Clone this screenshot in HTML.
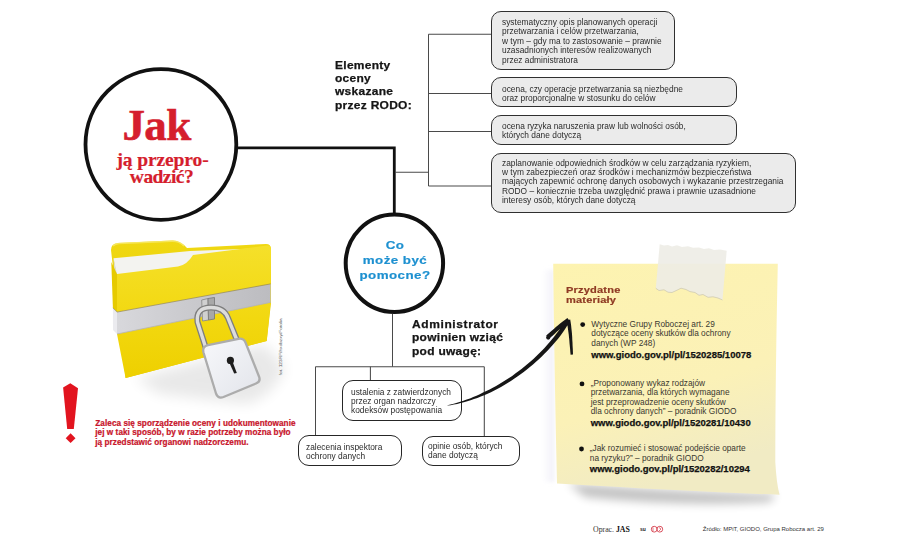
<!DOCTYPE html>
<html><head><meta charset="utf-8">
<style>
html,body{margin:0;padding:0;background:#fff;}
body{width:900px;height:540px;position:relative;overflow:hidden;font-family:"Liberation Sans",sans-serif;}
.a{position:absolute;white-space:nowrap;}
svg{position:absolute;left:0;top:0;}
.box{position:absolute;box-sizing:border-box;border:1.9px solid #303030;border-radius:10px;background:#ebebeb;}
.wbox{position:absolute;box-sizing:border-box;border:1.9px solid #262626;border-radius:11px;background:#fff;}
</style></head><body>
<svg width="900" height="540" viewBox="0 0 900 540">
  <defs>
    <filter id="blur2" x="-50%" y="-50%" width="200%" height="200%"><feGaussianBlur stdDeviation="2"/></filter>
    <filter id="blur4" x="-50%" y="-50%" width="200%" height="200%"><feGaussianBlur stdDeviation="4"/></filter>
    <filter id="blur5" x="-50%" y="-50%" width="200%" height="200%"><feGaussianBlur stdDeviation="5"/></filter>
    <filter id="blur6" x="-50%" y="-50%" width="200%" height="200%"><feGaussianBlur stdDeviation="7"/></filter>
    <radialGradient id="shadowG" cx="0.5" cy="0.5" r="0.5">
      <stop offset="0" stop-color="#000" stop-opacity="0.22"/>
      <stop offset="1" stop-color="#000" stop-opacity="0"/>
    </radialGradient>
    <linearGradient id="noteG" x1="0" y1="0" x2="0.3" y2="1">
      <stop offset="0" stop-color="#fdf3b0"/>
      <stop offset="0.65" stop-color="#fbf1b7"/>
      <stop offset="1" stop-color="#f1ebc4"/>
    </linearGradient>
    <linearGradient id="noteShadowL" x1="0" y1="0" x2="1" y2="0">
      <stop offset="0" stop-color="#e8e6f4" stop-opacity="0"/>
      <stop offset="1" stop-color="#dcdaee" stop-opacity="0.9"/>
    </linearGradient>
    <linearGradient id="frontG" x1="0" y1="0" x2="0" y2="1">
      <stop offset="0" stop-color="#f5e02a"/>
      <stop offset="0.55" stop-color="#f2d810"/>
      <stop offset="1" stop-color="#eed000"/>
    </linearGradient>
    <linearGradient id="backG" x1="0" y1="0" x2="0" y2="1">
      <stop offset="0" stop-color="#f0d812"/>
      <stop offset="1" stop-color="#e2c600"/>
    </linearGradient>
    <linearGradient id="bandH" x1="0" y1="0" x2="1" y2="0">
      <stop offset="0" stop-color="#d8d8dc"/>
      <stop offset="0.5" stop-color="#c9c9cd"/>
      <stop offset="1" stop-color="#bcbcc0"/>
    </linearGradient>
    <linearGradient id="bandG" x1="0" y1="0" x2="0" y2="1">
      <stop offset="0" stop-color="#d4d4d4"/>
      <stop offset="0.5" stop-color="#dadada"/>
      <stop offset="1" stop-color="#cbcbcb"/>
    </linearGradient>
    <linearGradient id="lockG" x1="0" y1="0" x2="1" y2="1">
      <stop offset="0" stop-color="#f7f8fb"/>
      <stop offset="1" stop-color="#e2e4ea"/>
    </linearGradient>
  </defs>

  <!-- folder shadow -->
  <path d="M135,378 L265,344 L285,368 Q272,398 245,404 L160,394 Z" fill="#000" opacity="0.085" filter="url(#blur6)"/>
  <!-- folder back -->
  <path d="M111,250 Q111,243.5 118,243 L172,240.5 Q180,240 187,248 L266,244 Q271,244 271,249 L271,303 L266.7,341 L125.6,378 Z" fill="url(#backG)"/>
  <path d="M113,246 Q115,243.8 119,243.6 L172,241.3 Q179,241 184,246" fill="none" stroke="#f7ea6a" stroke-width="1.5" opacity="0.8"/>
  <!-- papers -->
  <path d="M113.5,258.3 L190,251 L268,248 L268,272 L117.5,280 Z" fill="#f3f3f0"/>
  <path d="M113.5,258.3 L117,274 L114.5,274 Z" fill="#dcdcd6"/>
  <!-- folder front -->
  <path d="M117,274 L178,266.5 Q187,265 193,255 L267,245.5 Q271,245 271,250 L270.6,302.4 L266.7,341 L125.6,378 L117,334 Z" fill="url(#frontG)"/>
  <path d="M111.3,262 L117,274 L117,312.1 L112.9,308 Z" fill="#e6ca00"/>
  <!-- band -->
  <path d="M112.9,308 L117,312.1 L117,334 L113,330 Z" fill="#ebebef"/>
  <path d="M117,312.1 L270.6,283.9 L270.6,302.4 L117,334 Z" fill="url(#bandH)"/>
  <path d="M117,334 L270.6,302.4" fill="none" stroke="#b4b4b8" stroke-width="0.8"/>
  <path d="M112.9,308 L117,312.1 L270.6,283.9" fill="none" stroke="#8c8050" stroke-width="0.9" opacity="0.7"/>
  <!-- hasp -->
  <path d="M201.7,300 L208,298.5 L208.5,320 L202.5,321 Z" fill="#d0d0d0" stroke="#8c8c8c" stroke-width="0.9"/>
  <path d="M208,298.5 L214.5,297.5 L214.5,319 L208.5,320 Z" fill="#a8a8a8" stroke="#7c7c7c" stroke-width="0.9"/>
  <!-- shackle -->
  <path d="M205.5,347 L197.5,322 Q195.5,307.5 211,307.5 Q224,307.5 228,318 L236.5,339" fill="none" stroke="#7e7e7e" stroke-width="6" stroke-linecap="round"/>
  <path d="M205.5,347 L197.5,322 Q195.5,307.5 211,307.5 Q224,307.5 228,318 L236.5,339" fill="none" stroke="#dcdcdc" stroke-width="3.4" stroke-linecap="round"/>
  <!-- lock body -->
  <path d="M208,345.2 L238.5,338.8 Q243.5,337.8 245.5,342.5 L259,376.5 Q261,381.5 256,383.5 L223.5,397 Q218,399 216,393.5 L203.5,352.5 Q202,346.5 208,345.2 Z" fill="url(#lockG)" stroke="#acacac" stroke-width="2.3"/>
  <circle cx="230.4" cy="360.4" r="3.6" fill="#1e1e1e"/>
  <path d="M228.8,361.5 L232.2,360.8 L236.8,373 L234.2,373.6 Z" fill="#1e1e1e"/>

  <!-- big circle -->
  <circle cx="160.9" cy="144.5" r="75.4" fill="#fff" stroke="#111" stroke-width="3.8"/>
  <!-- thick connector -->
  <polyline points="238,147.8 394.3,147.8 394.3,213" fill="none" stroke="#111" stroke-width="2.8"/>
  <!-- circle 2 -->
  <circle cx="394.4" cy="263.3" r="48.7" fill="#fff" stroke="#111" stroke-width="4"/>
  <!-- thin tree top -->
  <g stroke="#4a4a4a" stroke-width="1.05" fill="none">
    <line x1="395" y1="172.2" x2="428.5" y2="172.2"/>
    <line x1="428.5" y1="34.2" x2="428.5" y2="186"/>
    <line x1="428.5" y1="34.2" x2="492" y2="34.2"/>
    <line x1="428.5" y1="93.5" x2="492" y2="93.5"/>
    <line x1="428.5" y1="131.5" x2="492" y2="131.5"/>
    <line x1="428.5" y1="186" x2="492" y2="186"/>
  </g>
  <!-- thin tree bottom -->
  <g stroke="#4a4a4a" stroke-width="1.05" fill="none">
    <line x1="392.5" y1="314" x2="392.5" y2="366.7"/>
    <line x1="315.5" y1="366.7" x2="484.3" y2="366.7"/>
    <line x1="315.5" y1="366.7" x2="315.5" y2="437"/>
    <line x1="484.3" y1="366.7" x2="484.3" y2="437"/>
    <line x1="370.4" y1="366.7" x2="370.4" y2="382"/>
  </g>

  <!-- note shadow left -->
  <rect x="542" y="270" width="12" height="212" fill="url(#noteShadowL)" opacity="0.5" filter="url(#blur2)"/>
  <!-- note bottom shadow -->
  <path d="M568,483 Q680,492 776,494 L770,502 Q680,507 585,497 Z" fill="#000" opacity="0.24" filter="url(#blur5)"/>
  <!-- sticky note -->
  <path d="M553.2,263.8 L777.8,263.8 Q775.3,380 775.3,462 Q776.5,484 779.6,494.8 Q690,491.5 557,483.6 Q554.5,380 553.2,263.8 Z" fill="url(#noteG)"/>
  <!-- tape -->
  <path d="M659.7,244.2 L664,245.5 L668,245 L672,246.5 L677,245.3 L682,247 L688,246.2 L693,247.8 L699,247.5 L704,249 L709,248.2 L714,250 L720,249.5 L726.7,250.8 L722.5,300 L718,298 L713,296.8 L708,297.3 L703,294.5 L699,295.3 L695,292.5 L690,291.6 L686,289.5 L681,288.2 L677,290.2 L672,292.5 L668,292.2 L664,289.8 L659,290.5 L655.8,288.3 Z" fill="#edece6" opacity="0.9"/>
  <path d="M722.5,300 L718,298 L713,296.8 L708,297.3 L703,294.5 L699,295.3 L695,292.5 L690,291.6 L686,289.5 L681,288.2 L677,290.2 L672,292.5 L668,292.2 L664,289.8 L659,290.5 L655.8,288.3" fill="none" stroke="#cfcab2" stroke-width="0.8"/>
</svg>
<div class="box" style="left:491px;top:10.7px;width:184px;height:59px;"></div>
<div class="box" style="left:491px;top:77.4px;width:245.6px;height:29.3px;"></div>
<div class="box" style="left:491px;top:115.2px;width:245.6px;height:29.6px;"></div>
<div class="box" style="left:491px;top:153.1px;width:304.6px;height:59.8px;"></div>
<div class="wbox" style="left:342.2px;top:380.4px;width:120px;height:41px;"></div>
<div class="wbox" style="left:298px;top:435.3px;width:104px;height:30.7px;"></div>
<div class="wbox" style="left:422px;top:435.5px;width:98px;height:30.5px;"></div>

<div class="a" style="left:502px;top:17.90px;font-size:9px;color:#2b2b2b;transform:scaleX(0.93);transform-origin:0 0;line-height:9.45px;">systematyczny opis planowanych operacji<br>przetwarzania i celów przetwarzania,<br>w tym – gdy ma to zastosowanie – prawnie<br>uzasadnionych interesów realizowanych<br>przez administratora</div>
<div class="a" style="left:502px;top:84.60px;font-size:9px;color:#2b2b2b;transform:scaleX(0.93);transform-origin:0 0;line-height:9.5px;">ocena, czy operacje przetwarzania są niezbędne<br>oraz proporcjonalne w stosunku do celów</div>
<div class="a" style="left:502px;top:121.60px;font-size:9px;color:#2b2b2b;transform:scaleX(0.93);transform-origin:0 0;line-height:9.3px;">ocena ryzyka naruszenia praw lub wolności osób,<br>których dane dotyczą</div>
<div class="a" style="left:502px;top:158.60px;font-size:9px;color:#2b2b2b;transform:scaleX(0.93);transform-origin:0 0;line-height:9.4px;">zaplanowanie odpowiednich środków w celu zarządzania ryzykiem,<br>w tym zabezpieczeń oraz środków i mechanizmów bezpieczeństwa<br>mających zapewnić ochronę danych osobowych i wykazanie przestrzegania<br>RODO – koniecznie trzeba uwzględnić prawa i prawnie uzasadnione<br>interesy osób, których dane dotyczą</div>
<div class="a" style="left:335px;top:58.81px;font-size:10.5px;font-weight:700;letter-spacing:0.25px;color:#151515;transform:scaleX(1.14);transform-origin:0 0;-webkit-text-stroke:0.25px #151515;line-height:13.3px;">Elementy<br>oceny<br>wskazane<br>przez RODO:</div>
<div class="a" style="left:412px;top:318.31px;font-size:10.5px;font-weight:700;letter-spacing:0.25px;color:#151515;transform:scaleX(1.14);transform-origin:0 0;-webkit-text-stroke:0.25px #151515;line-height:13.15px;"><span style='letter-spacing:0.55px'>Administrator</span><br>powinien wziąć<br>pod uwagę:</div>
<div class="a" style="left:118.5px;top:103.40px;font-family:'Liberation Serif',serif;font-weight:700;color:#d51e2d;text-align:center;width:76px;font-size:45px;line-height:45px;letter-spacing:-0.6px;-webkit-text-stroke:0.6px #d51e2d;">Jak</div>
<div class="a" style="left:112.5px;top:149.81px;font-family:'Liberation Serif',serif;font-weight:700;color:#d51e2d;text-align:center;width:100px;font-size:19.5px;line-height:20px;letter-spacing:-0.1px;-webkit-text-stroke:0.2px #d51e2d;">ją przepro-</div>
<div class="a" style="left:111.5px;top:166.90px;font-family:'Liberation Serif',serif;font-weight:700;color:#d51e2d;text-align:center;width:100px;font-size:19.5px;line-height:20px;letter-spacing:-0.55px;-webkit-text-stroke:0.2px #d51e2d;">wadzić?</div>
<div class="a" style="left:345px;top:237.71px;width:100px;text-align:center;font-size:11.5px;line-height:15.35px;font-weight:700;letter-spacing:0.4px;color:#1d90d0;transform:scaleX(1.16);transform-origin:50% 0;-webkit-text-stroke:0.2px #1d90d0;">Co<br>może być<br>pomocne?</div>
<div class="a" style="left:350.6px;top:387.81px;font-size:9px;color:#2b2b2b;transform:scaleX(0.93);transform-origin:0 0;line-height:9.3px;">ustalenia z zatwierdzonych<br>przez organ nadzorczy<br>kodeksów postępowania</div>
<div class="a" style="left:306px;top:443.21px;font-size:9px;color:#2b2b2b;transform:scaleX(0.93);transform-origin:0 0;line-height:9px;">zalecenia inspektora<br>ochrony danych</div>
<div class="a" style="left:428px;top:442.00px;font-size:9px;color:#2b2b2b;transform:scaleX(0.93);transform-origin:0 0;line-height:9.4px;">opinie osób, których<br>dane dotyczą</div>
<div class="a" style="left:95.3px;top:418.71px;font-size:8.2px;line-height:9.7px;font-weight:700;color:#c8152b;transform:scaleX(1.0);transform-origin:0 0;-webkit-text-stroke:0.22px #c8152b;letter-spacing:0.05px;">Zaleca się sporządzenie oceny i udokumentowanie<br>jej w taki sposób, by w razie potrzeby można było<br>ją przedstawić organowi nadzorczemu.</div>
<div class="a" style="left:565.9px;top:285.31px;font-size:9.4px;line-height:10px;font-weight:700;letter-spacing:0.15px;color:#8f3a24;transform:scaleX(1.18);transform-origin:0 0;-webkit-text-stroke:0.2px #8f3a24;">Przydatne<br>materiały</div>
<div class="a" style="left:591.3px;top:320.00px;font-size:8.3px;color:#3a3830;line-height:9.35px;">Wytyczne Grupy Roboczej art. 29<br>dotyczące oceny skutków dla ochrony<br>danych (WP 248)</div>
<div class="a" style="left:591.3px;top:349.31px;font-size:9.5px;line-height:11px;font-weight:700;color:#111;-webkit-text-stroke:0.25px #111;">www.giodo.gov.pl/pl/1520285/10078</div>
<div class="a" style="left:590.7px;top:379.10px;font-size:8.3px;color:#3a3830;line-height:9.3px;">„Proponowany wykaz rodzajów<br>przetwarzania, dla których wymagane<br>jest przeprowadzenie oceny skutków<br>dla ochrony danych” – poradnik GIODO</div>
<div class="a" style="left:590.7px;top:416.90px;font-size:9.5px;line-height:11px;font-weight:700;color:#111;-webkit-text-stroke:0.25px #111;">www.giodo.gov.pl/pl/1520281/10430</div>
<div class="a" style="left:589.8px;top:444.31px;font-size:8.3px;color:#3a3830;line-height:9.3px;">„Jak rozumieć i stosować podejście oparte<br>na ryzyku?” – poradnik GIODO</div>
<div class="a" style="left:589.8px;top:463.21px;font-size:9.5px;line-height:11px;font-weight:700;color:#111;-webkit-text-stroke:0.25px #111;">www.giodo.gov.pl/pl/1520282/10294</div>
<div class="a" style="left:593px;top:525.71px;font-family:'Liberation Serif',serif;font-size:7.8px;line-height:7.8px;color:#333;">Oprac. <b style='color:#111'>JAS</b></div>
<div class="a" style="left:640px;top:527.31px;font-size:5px;line-height:5px;font-weight:700;color:#222;">su</div>
<div class="a" style="left:702.8px;top:525.90px;font-size:6px;line-height:6px;color:#333;">Źródło: MPiT, GIODO, Grupa Robocza art. 29</div>
<svg width="900" height="540" viewBox="0 0 900 540">
  <!-- exclamation -->
  <path d="M70.3,383.3 L78,388.2 L73.8,429 L67.2,429 L63.1,387.5 Z" fill="#e2141f"/>
  <path d="M70.6,433.3 L75.5,438.2 L70.6,443.1 L65.7,438.2 Z" fill="#e2141f"/>
  <!-- bullets -->
  <circle cx="582.7" cy="324.6" r="2.4" fill="#111"/>
  <circle cx="582" cy="383.9" r="2.4" fill="#111"/>
  <circle cx="581.5" cy="449" r="2.4" fill="#111"/>
  <!-- arrow -->
  <path d="M447.4,405.6 L450.7,405.2 L453.9,404.6 L457.2,403.9 L460.6,403.1 L463.9,402.3 L467.3,401.3 L470.6,400.3 L474.0,399.1 L477.4,397.9 L480.8,396.6 L484.2,395.3 L487.6,393.8 L491.0,392.2 L494.3,390.5 L497.7,388.7 L501.0,386.9 L504.3,385.0 L507.6,383.0 L510.9,380.9 L514.1,378.8 L517.4,376.6 L520.6,374.3 L523.7,371.9 L526.9,369.5 L529.9,367.0 L533.0,364.5 L536.0,361.8 L538.9,359.2 L541.8,356.4 L544.7,353.6 L547.5,350.7 L550.2,347.8 L552.9,344.8 L555.5,341.8 L558.1,338.7 L560.6,335.5 L562.9,332.2 L565.1,328.9 L567.3,325.5 L569.3,322.0 L566.3,320.2 L564.1,323.4 L561.8,326.6 L559.5,329.8 L557.1,332.8 L554.7,336.0 L552.2,339.0 L549.7,342.0 L547.1,345.0 L544.5,347.9 L541.8,350.7 L539.0,353.5 L536.2,356.3 L533.4,358.9 L530.5,361.5 L527.5,364.1 L524.5,366.6 L521.5,369.0 L518.4,371.3 L515.3,373.6 L512.2,375.9 L509.0,378.0 L505.8,380.1 L502.6,382.1 L499.4,384.0 L496.1,385.9 L492.8,387.7 L489.6,389.4 L486.3,391.0 L483.0,392.6 L479.8,394.2 L476.5,395.7 L473.2,397.1 L470.0,398.4 L466.7,399.6 L463.4,400.7 L460.2,401.8 L457.0,402.8 L453.7,403.7 L450.5,404.4 L447.4,405.2Z M549.0,338.9 L550.7,337.3 L552.6,335.7 L554.5,333.9 L556.5,332.1 L558.6,330.2 L560.8,328.3 L563.0,326.4 L565.2,324.5 L567.4,322.7 L569.6,321.0 L567.4,318.0 L565.1,319.7 L562.7,321.5 L560.4,323.3 L558.1,325.2 L555.9,327.1 L553.8,329.0 L551.7,330.8 L549.7,332.5 L547.9,334.1 L546.2,335.5Z M566.4,320.4 L567.0,323.1 L567.5,325.8 L567.9,328.6 L568.3,331.5 L568.7,334.3 L569.0,337.2 L569.3,340.1 L569.5,343.0 L569.8,345.9 L570.1,348.9 L570.3,351.8 L570.6,354.7 L573.0,354.5 L572.9,351.6 L572.8,348.7 L572.6,345.8 L572.5,342.8 L572.3,339.9 L572.2,336.9 L572.0,334.0 L571.7,331.1 L571.4,328.2 L571.1,325.3 L570.7,322.4 L570.2,319.6Z" fill="#161616"/>
  <circle cx="548.2" cy="337.6" r="2.1" fill="#161616"/>
  <!-- footer logo -->
  <circle cx="654.2" cy="529.2" r="2.9" fill="none" stroke="#d6404e" stroke-width="0.9"/>
  <circle cx="659.8" cy="529.2" r="2.9" fill="none" stroke="#d6404e" stroke-width="0.9"/>
  <path d="M653,527.5 L653,531 M659,527.5 L661,529 L659,531" fill="none" stroke="#d6404e" stroke-width="0.7"/>
  <!-- credit -->
  <text x="0" y="0" transform="translate(281.8,375.3) rotate(-90)" font-family="Liberation Sans" font-size="4.2" fill="#555" textLength="57" lengthAdjust="spacingAndGlyphs">fot. 123RF/hxdbzxy/Fotolia</text>
</svg>
</body></html>
